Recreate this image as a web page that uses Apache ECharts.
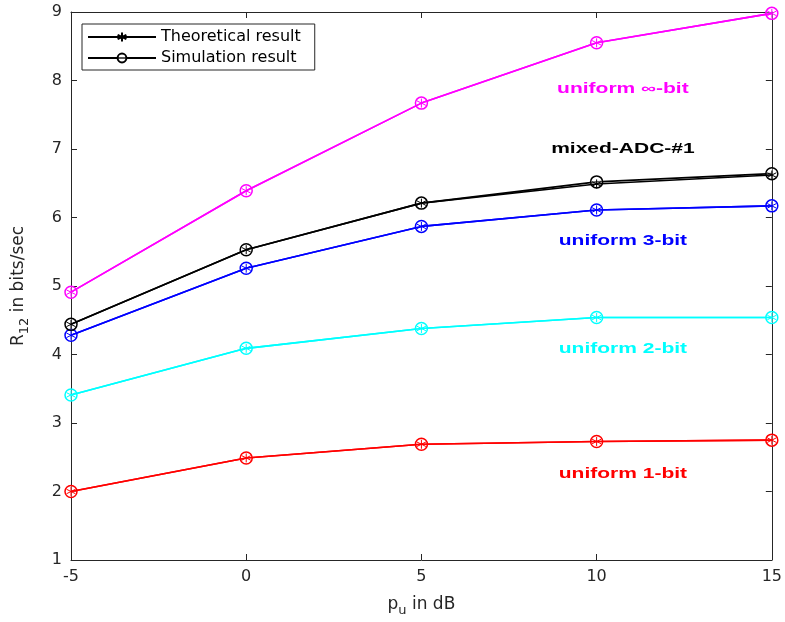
<!DOCTYPE html>
<html><head><meta charset="utf-8">
<script src="https://cdn.jsdelivr.net/npm/echarts@6/dist/echarts.min.js"></script>
<style>html,body{margin:0;padding:0;background:#fff;overflow:hidden}#c{width:785px;height:622px}</style>
</head><body><div id="c"></div>
<script>
const xValues = [-5, 0, 5, 10, 15];
const infTheo = [4.91, 6.39, 7.67, 8.55, 8.98];
const infSim  = [4.91, 6.39, 7.67, 8.55, 8.98];
const mixTheo = [4.44, 5.53, 6.21, 6.49, 6.62];
const mixSim  = [4.44, 5.53, 6.21, 6.52, 6.64];
const b3Theo  = [4.28, 5.26, 5.87, 6.11, 6.17];
const b3Sim   = [4.28, 5.26, 5.87, 6.11, 6.17];
const b2Theo  = [3.41, 4.09, 4.38, 4.54, 4.54];
const b2Sim   = [3.41, 4.09, 4.38, 4.54, 4.54];
const b1Theo  = [2.0, 2.49, 2.69, 2.73, 2.75];
const b1Sim   = [2.0, 2.49, 2.69, 2.73, 2.75];
const xTicks = [-5, 0, 5, 10, 15];
const yTicks = [1, 2, 3, 4, 5, 6, 7, 8, 9];
const labelTexts  = ['uniform \u221e-bit', 'mixed-ADC-#1', 'uniform 3-bit', 'uniform 2-bit', 'uniform 1-bit'];
const labelX      = [10.75, 10.75, 10.75, 10.75, 10.75];
const labelY      = [7.87, 7.0, 5.65, 4.08, 2.26];
const labelColors = ['#ff00ff', '#000000', '#0000ff', '#00ffff', '#ff0000'];

const STAR = 'path://M0,-1L0,1M-0.866,-0.5L0.866,0.5M-0.866,0.5L0.866,-0.5';
const wfont = '"DejaVu Sans", "Liberation Sans", Arial, sans-serif';
function pairs(a){ return xValues.map((x,i)=>[x,a[i]]); }
function theo(name, color, data){
  return {name, type:'line', data:pairs(data), symbol:STAR, symbolSize:9,
    lineStyle:{color, width:1.6}, itemStyle:{color, borderColor:color, borderWidth:1},
    z:5, animation:false};
}
function sim(name, color, data){
  return {name, type:'line', data:pairs(data), symbol:'circle', symbolSize:12,
    lineStyle:{color, width:1.6}, itemStyle:{color:'rgba(255,255,255,0.35)', borderColor:color, borderWidth:1.5},
    z:4, animation:false};
}
const series = [
  theo('inf-t','#ff00ff',infTheo), sim('inf-s','#ff00ff',infSim),
  theo('b1-t','#ff0000',b1Theo), sim('b1-s','#ff0000',b1Sim),
  theo('b2-t','#00ffff',b2Theo), sim('b2-s','#00ffff',b2Sim),
  theo('b3-t','#0000ff',b3Theo), sim('b3-s','#0000ff',b3Sim),
  sim('Simulation result','#000000',mixSim), theo('Theoretical result','#000000',mixTheo)
];

const axisBase = {type:'value', axisLine:{show:true, onZero:false, lineStyle:{color:'#262626', width:1}},
  axisTick:{show:true, inside:true, length:6, lineStyle:{color:'#262626'}},
  splitLine:{show:false}};
const chart = echarts.init(document.getElementById('c'), null, {renderer:'canvas'});
chart.setOption({
  backgroundColor:'#fff',
  animation:false,
  grid:{left:71, right:8, top:12, bottom:56, containLabel:false},
  legend:{data:['Theoretical result','Simulation result'], orient:'vertical', left:82, top:24,
    itemWidth:68, itemHeight:11, itemGap:5, padding:[5,14,4,5],
    borderColor:'#262626', borderWidth:1, backgroundColor:'#fff',
    textStyle:{fontFamily:wfont, fontSize:16, color:'#000'}},
  xAxis:[
    Object.assign({}, axisBase, {min:-5, max:15, interval:5, position:'bottom',
      axisLabel:{fontFamily:wfont, fontSize:16, color:'#262626', margin:9},
      name:'{a|p}{s|u}{a| in dB}', nameLocation:'middle', nameGap:32,
      nameTextStyle:{rich:{a:{fontFamily:wfont, fontSize:17, color:'#262626'},
        s:{fontFamily:wfont, fontSize:13, color:'#262626', padding:[12,0,0,0]}}}}),
    Object.assign({}, axisBase, {min:-5, max:15, interval:5, position:'top', axisLabel:{show:false}})
  ],
  yAxis:[
    Object.assign({}, axisBase, {min:1, max:9, interval:1, position:'left',
      axisLabel:{fontFamily:wfont, fontSize:16, color:'#262626', margin:9},
      name:'{a|R}{s|12}{a| in bits/sec}', nameLocation:'middle', nameGap:40, nameRotate:90,
      nameTextStyle:{rich:{a:{fontFamily:wfont, fontSize:17, color:'#262626'},
        s:{fontFamily:wfont, fontSize:13, color:'#262626', padding:[12,0,0,0]}}}}),
    Object.assign({}, axisBase, {min:1, max:9, interval:1, position:'right', axisLabel:{show:false}})
  ],
  series
});
const g = labelTexts.map((t,i)=>{
  const p = chart.convertToPixel({gridIndex:0}, [labelX[i], labelY[i]]);
  return {type:'text', x:p[0], y:p[1], scaleX:1.5, z:10,
    style:{text:t, fill:labelColors[i], font:'bold 14px "Liberation Sans", Arial, sans-serif',
      align:'center', verticalAlign:'middle'}};
});
chart.setOption({graphic:g});
</script></body></html>
